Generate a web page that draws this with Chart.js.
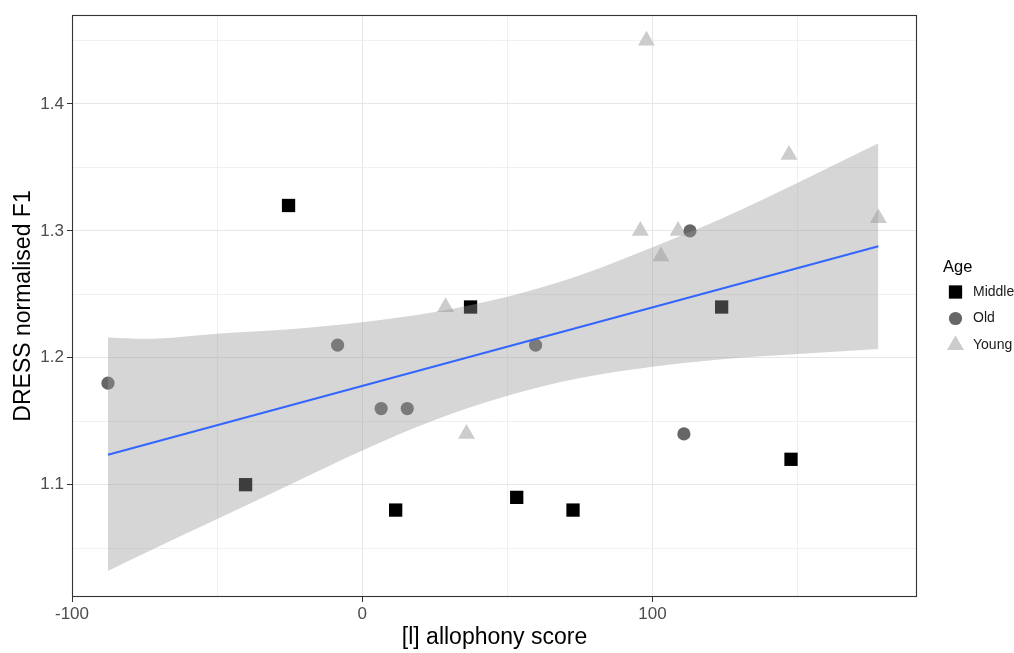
<!DOCTYPE html>
<html>
<head>
<meta charset="utf-8">
<script src="https://cdn.jsdelivr.net/npm/chart.js@4.4.1/dist/chart.umd.min.js"></script>
<style>
  html, body { margin: 0; padding: 0; background: #fff; }
  #wrap { width: 1014px; height: 653px; }
</style>
</head>
<body>
<div id="wrap"><canvas id="allophonyChart"></canvas></div>
<script>
// Age groups and their points: [l] allophony score (x) vs DRESS normalised F1 (y)
const ageGroups = ['Middle', 'Old', 'Young'];
const middleX = [-25.4, -40.2, 11.5, 37.3, 53.2, 72.6, 123.8, 147.7];
const middleY = [1.32, 1.10, 1.08, 1.24, 1.09, 1.08, 1.24, 1.12];
const oldX = [-87.6, -8.5, 6.5, 15.5, 59.7, 112.9, 110.8];
const oldY = [1.18, 1.21, 1.16, 1.16, 1.21, 1.30, 1.14];
const youngX = [97.9, 28.7, 35.9, 95.8, 102.9, 108.8, 147.0, 177.8];
const youngY = [1.45, 1.24, 1.14, 1.30, 1.28, 1.30, 1.36, 1.31];

// Fitted line and its confidence band
const fitX = [-87.6, 177.8];
const fitY = [1.1236, 1.2879];
const bandX = [-87.6, -75, -50, -25, 0, 25, 50, 75, 100, 125, 150, 177.8];
const bandLower = [1.032, 1.046, 1.073, 1.100, 1.127, 1.151, 1.170, 1.184, 1.193, 1.199, 1.203, 1.207];
const bandUpper = [1.216, 1.215, 1.219, 1.2225, 1.228, 1.236, 1.248, 1.265, 1.287, 1.311, 1.338, 1.369];

// Axes
const xTicks = [-100, -50, 0, 50, 100, 150];
const xTickLabels = ['-100', '', '0', '', '100', ''];
const yTicks = [1.05, 1.1, 1.15, 1.2, 1.25, 1.3, 1.35, 1.4, 1.45];
const yTickLabels = ['', '1.1', '', '1.2', '', '1.3', '', '1.4', ''];
const xRange = [-100, 191.1];
const yRange = [1.0115, 1.4701];

const FONT = "'Liberation Sans', Arial, sans-serif";
const groupColors = ['#000000', '#666666', '#cccccc'];
const groupStyles = ['rect', 'circle', 'triangle'];
const groupRadius = [9.4, 6.6, 9.8];

const pts = (xs, ys) => xs.map((x, i) => ({ x: x, y: ys[i] }));

// panel border + ggplot-like legend on the right
const panelAndLegend = {
    id: 'panelAndLegend',
    afterDatasetsDraw(chart) {
        const { ctx, chartArea: a } = chart;
        ctx.save();
        ctx.strokeStyle = '#333333';
        ctx.lineWidth = 1.1;
        ctx.strokeRect(a.left + 0.5, a.top + 0.5, a.right - a.left - 1, a.bottom - a.top - 1);
        ctx.restore();
    },
    afterDraw(chart) {
        const ctx = chart.ctx;
        ctx.save();
        ctx.textBaseline = 'middle';
        ctx.textAlign = 'left';
        ctx.fillStyle = '#000';
        ctx.font = '16.5px ' + FONT;
        ctx.fillText('Age', 943, 267);
        ctx.font = '14px ' + FONT;
        ageGroups.forEach((name, i) => {
            const kx = 955.5, ky = 292 + i * 26.5, r = groupRadius[i];
            ctx.fillStyle = groupColors[i];
            ctx.beginPath();
            if (groupStyles[i] === 'rect') {
                const s = r * Math.SQRT1_2;
                ctx.rect(kx - s, ky - s, 2 * s, 2 * s);
            } else if (groupStyles[i] === 'circle') {
                ctx.arc(kx, ky, r, 0, Math.PI * 2);
            } else {
                ctx.moveTo(kx, ky - r);
                ctx.lineTo(kx + r * 0.866, ky + r * 0.5);
                ctx.lineTo(kx - r * 0.866, ky + r * 0.5);
                ctx.closePath();
            }
            ctx.fill();
            ctx.fillStyle = '#1a1a1a';
            ctx.fillText(name, 973, ky);
        });
        ctx.restore();
    }
};

const ctxA = document.getElementById('allophonyChart');
new Chart(ctxA, {
    type: 'scatter',
    data: {
        datasets: [
            {
                type: 'line', label: 'fit', data: pts(fitX, fitY),
                borderColor: '#3366FF', borderWidth: 2, pointRadius: 0, fill: false
            },
            {
                type: 'line', label: 'upper', data: pts(bandX, bandUpper),
                borderWidth: 0, borderColor: 'rgba(0,0,0,0)', pointRadius: 0,
                cubicInterpolationMode: 'monotone',
                backgroundColor: 'rgba(153,153,153,0.4)', fill: 2
            },
            {
                type: 'line', label: 'lower', data: pts(bandX, bandLower),
                borderWidth: 0, borderColor: 'rgba(0,0,0,0)', pointRadius: 0,
                cubicInterpolationMode: 'monotone', fill: false
            },
            {
                label: ageGroups[0], data: pts(middleX, middleY),
                pointStyle: groupStyles[0], pointRadius: groupRadius[0],
                backgroundColor: groupColors[0], borderWidth: 0
            },
            {
                label: ageGroups[1], data: pts(oldX, oldY),
                pointStyle: groupStyles[1], pointRadius: groupRadius[1],
                backgroundColor: groupColors[1], borderWidth: 0
            },
            {
                label: ageGroups[2], data: pts(youngX, youngY),
                pointStyle: groupStyles[2], pointRadius: groupRadius[2],
                backgroundColor: groupColors[2], borderWidth: 0
            }
        ]
    },
    options: {
        responsive: true, maintainAspectRatio: false,
        animation: false,
        layout: { padding: { top: 15, right: 97, left: 0, bottom: 0 } },
        plugins: { legend: { display: false }, tooltip: { enabled: false } },
        scales: {
            x: {
                type: 'linear', min: xRange[0], max: xRange[1],
                afterBuildTicks: s => { s.ticks = xTicks.map(v => ({ value: v })); },
                afterFit: s => { s.height = 56; },
                border: { display: false },
                grid: {
                    color: c => xTickLabels[c.index] ? '#e6e6e6' : '#f0f0f0',
                    lineWidth: 1,
                    tickColor: c => xTickLabels[c.index] ? '#333333' : 'rgba(0,0,0,0)',
                    tickLength: 5
                },
                ticks: {
                    callback: (v, i) => xTickLabels[i],
                    color: '#4d4d4d', padding: 2, maxRotation: 0, autoSkip: false,
                    font: { size: 17, family: FONT }
                },
                title: {
                    display: true, text: '[l] allophony score', color: '#000',
                    font: { size: 23, family: FONT }, padding: { top: 0, bottom: 2 }
                }
            },
            y: {
                type: 'linear', min: yRange[0], max: yRange[1],
                afterBuildTicks: s => { s.ticks = yTicks.map(v => ({ value: v })); },
                afterFit: s => { s.width = 72; },
                border: { display: false },
                grid: {
                    color: c => yTickLabels[c.index] ? '#e6e6e6' : '#f0f0f0',
                    lineWidth: 1,
                    tickColor: c => yTickLabels[c.index] ? '#333333' : 'rgba(0,0,0,0)',
                    tickLength: 5
                },
                ticks: {
                    callback: (v, i) => yTickLabels[i],
                    color: '#4d4d4d', padding: 3, autoSkip: false,
                    font: { size: 17, family: FONT }
                },
                title: {
                    display: true, text: 'DRESS normalised F1', color: '#000',
                    font: { size: 23, family: FONT }, padding: { top: 10, bottom: 0 }
                }
            }
        }
    },
    plugins: [panelAndLegend]
});
</script>
</body>
</html>
